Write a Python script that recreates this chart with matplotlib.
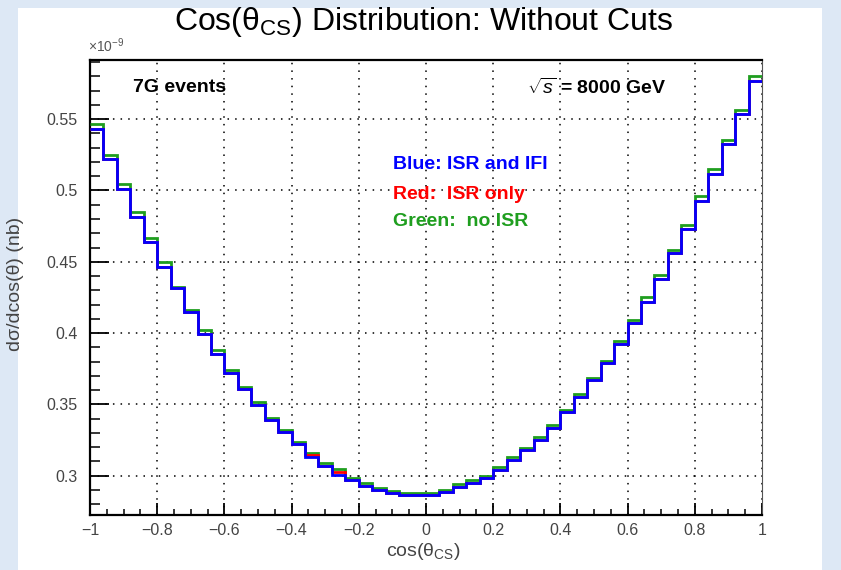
import matplotlib.pyplot as plt
import numpy as np
from matplotlib.patches import Rectangle

plt.rcParams['font.family'] = ['Liberation Sans', 'DejaVu Sans']
plt.rcParams['mathtext.fontset'] = 'custom'
plt.rcParams['mathtext.rm'] = 'Liberation Sans'
plt.rcParams['mathtext.it'] = 'Liberation Sans:italic'
plt.rcParams['mathtext.bf'] = 'Liberation Sans:bold'

# 50 bins in cos(theta_CS), values in units of 1e-9 nb
bin_edges = np.linspace(-1, 1, 51)

isr_ifi = [0.5433, 0.5222, 0.5012, 0.4817, 0.4637, 0.4462, 0.4315, 0.4146, 0.3992, 0.3851,
           0.3718, 0.3608, 0.3496, 0.3391, 0.3304, 0.3222, 0.3129, 0.3070, 0.3005, 0.2970,
           0.2930, 0.2899, 0.2881, 0.2866, 0.2864, 0.2864, 0.2888, 0.2923, 0.2951, 0.2986,
           0.3040, 0.3110, 0.3180, 0.3250, 0.3337, 0.3444, 0.3550, 0.3671, 0.3788, 0.3922,
           0.4074, 0.4216, 0.4380, 0.4560, 0.4729, 0.4923, 0.5117, 0.5327, 0.5538, 0.5765]

isr_only = [0.5433, 0.5222, 0.5012, 0.4817, 0.4637, 0.4462, 0.4315, 0.4146, 0.3992, 0.3851,
            0.3718, 0.3608, 0.3496, 0.3391, 0.3304, 0.3222, 0.3145, 0.3070, 0.3023, 0.2970,
            0.2930, 0.2899, 0.2881, 0.2866, 0.2864, 0.2864, 0.2888, 0.2923, 0.2951, 0.2986,
            0.3040, 0.3110, 0.3180, 0.3250, 0.3337, 0.3444, 0.3550, 0.3671, 0.3788, 0.3922,
            0.4074, 0.4216, 0.4380, 0.4560, 0.4729, 0.4923, 0.5117, 0.5327, 0.5538, 0.5765]

no_isr = [0.5465, 0.5252, 0.5042, 0.4848, 0.4670, 0.4497, 0.4320, 0.4165, 0.4022, 0.3882,
          0.3741, 0.3620, 0.3515, 0.3407, 0.3320, 0.3239, 0.3161, 0.3091, 0.3044, 0.2986,
          0.2946, 0.2911, 0.2892, 0.2876, 0.2876, 0.2880, 0.2900, 0.2939, 0.2970, 0.3000,
          0.3058, 0.3129, 0.3196, 0.3269, 0.3356, 0.3461, 0.3571, 0.3688, 0.3807, 0.3945,
          0.4092, 0.4251, 0.4408, 0.4584, 0.4759, 0.4958, 0.5150, 0.5355, 0.5566, 0.5800]

x_ticks = [-1, -0.8, -0.6, -0.4, -0.2, 0, 0.2, 0.4, 0.6, 0.8, 1]
x_tick_labels = ['\u22121', '\u22120.8', '\u22120.6', '\u22120.4', '\u22120.2', '0',
                 '0.2', '0.4', '0.6', '0.8', '1']
y_ticks = [0.3, 0.35, 0.4, 0.45, 0.5, 0.55]
y_tick_labels = ['0.3', '0.35', '0.4', '0.45', '0.5', '0.55']

c_blue = '#0000ff'
c_red = '#ff0000'
c_green = '#1f9e1f'

fig = plt.figure(figsize=(8.41, 5.70), dpi=100, facecolor='#dde8f5')
fig.patches.append(Rectangle((18 / 841, 0), (822 - 18) / 841, 1 - 8 / 570,
                             transform=fig.transFigure, facecolor='white',
                             edgecolor='none', zorder=-10))

ax = fig.add_axes([90 / 841, 1 - 515 / 570, (762 - 90) / 841, (515 - 60) / 570])
ax.set_zorder(1)

ax.stairs(no_isr, bin_edges, color=c_green, lw=2.0, baseline=None, zorder=3)
ax.stairs(isr_only, bin_edges, color=c_red, lw=2.0, baseline=None, zorder=4)
ax.stairs(isr_ifi, bin_edges, color=c_blue, lw=2.0, baseline=None, zorder=5)

ax.set_xlim(-1, 1)
ax.set_ylim(0.2724, 0.5915)

ax.set_xticks(x_ticks)
ax.set_xticklabels(x_tick_labels)
ax.set_yticks(y_ticks)
ax.set_yticklabels(y_tick_labels)
ax.set_xticks(np.arange(-1, 1.001, 0.05), minor=True)
ax.set_yticks(np.arange(0.28, 0.591, 0.01), minor=True)

ax.tick_params(axis='both', which='both', direction='in', top=False, right=False,
               labelsize=11.5, labelcolor='#444444')
ax.tick_params(axis='y', which='major', length=14, width=1.3, pad=9)
ax.tick_params(axis='y', which='minor', length=7.5, width=1.1)
ax.tick_params(axis='x', which='major', length=9, width=1.3, pad=6)
ax.tick_params(axis='x', which='minor', length=4.5, width=1.1)

ax.grid(True, which='major', color='black', linestyle=(0, (1, 4)), linewidth=1.1)
ax.set_axisbelow(True)

for side in ['left', 'bottom', 'top']:
    ax.spines[side].set_linewidth(1.6)
ax.spines['right'].set_linewidth(0.8)
ax.spines['right'].set_color('#555555')

ax.text(-0.003, 1.01, r'$\times$10$^{-9}$', transform=ax.transAxes, fontsize=10,
        color='#555555', ha='left', va='bottom')

# labels inside the frame
ax.text(-0.872, 0.5720, '7G events', fontsize=14, fontweight='bold', ha='left', va='center')
ax.text(0.30, 0.5720, r'$\sqrt{s}$ = 8000 GeV', fontsize=14, fontweight='bold',
        ha='left', va='center')

ax.text(-0.098, 0.5180, 'Blue: ISR and IFI', color=c_blue, fontsize=14,
        fontweight='bold', ha='left', va='center')
ax.text(-0.098, 0.4970, 'Red:  ISR only', color=c_red, fontsize=14,
        fontweight='bold', ha='left', va='center')
ax.text(-0.098, 0.4780, 'Green:  no ISR', color=c_green, fontsize=14,
        fontweight='bold', ha='left', va='center')

fig.text(423 / 841, 1 - 22 / 570, r'Cos(θ$_{\mathrm{CS}}$) Distribution: Without Cuts',
         fontsize=23, ha='center', va='center')
fig.text(423 / 841, 1 - 551 / 570, r'cos(θ$_{\mathrm{CS}}$)', fontsize=14,
         color='#444444', ha='center', va='center')
fig.text(16 / 841, 1 - 284 / 570, 'dσ/dcos(θ) (nb)', fontsize=14,
         color='#444444', rotation=90, ha='center', va='center')

fig.savefig('out.png', dpi=100, facecolor=fig.get_facecolor())
